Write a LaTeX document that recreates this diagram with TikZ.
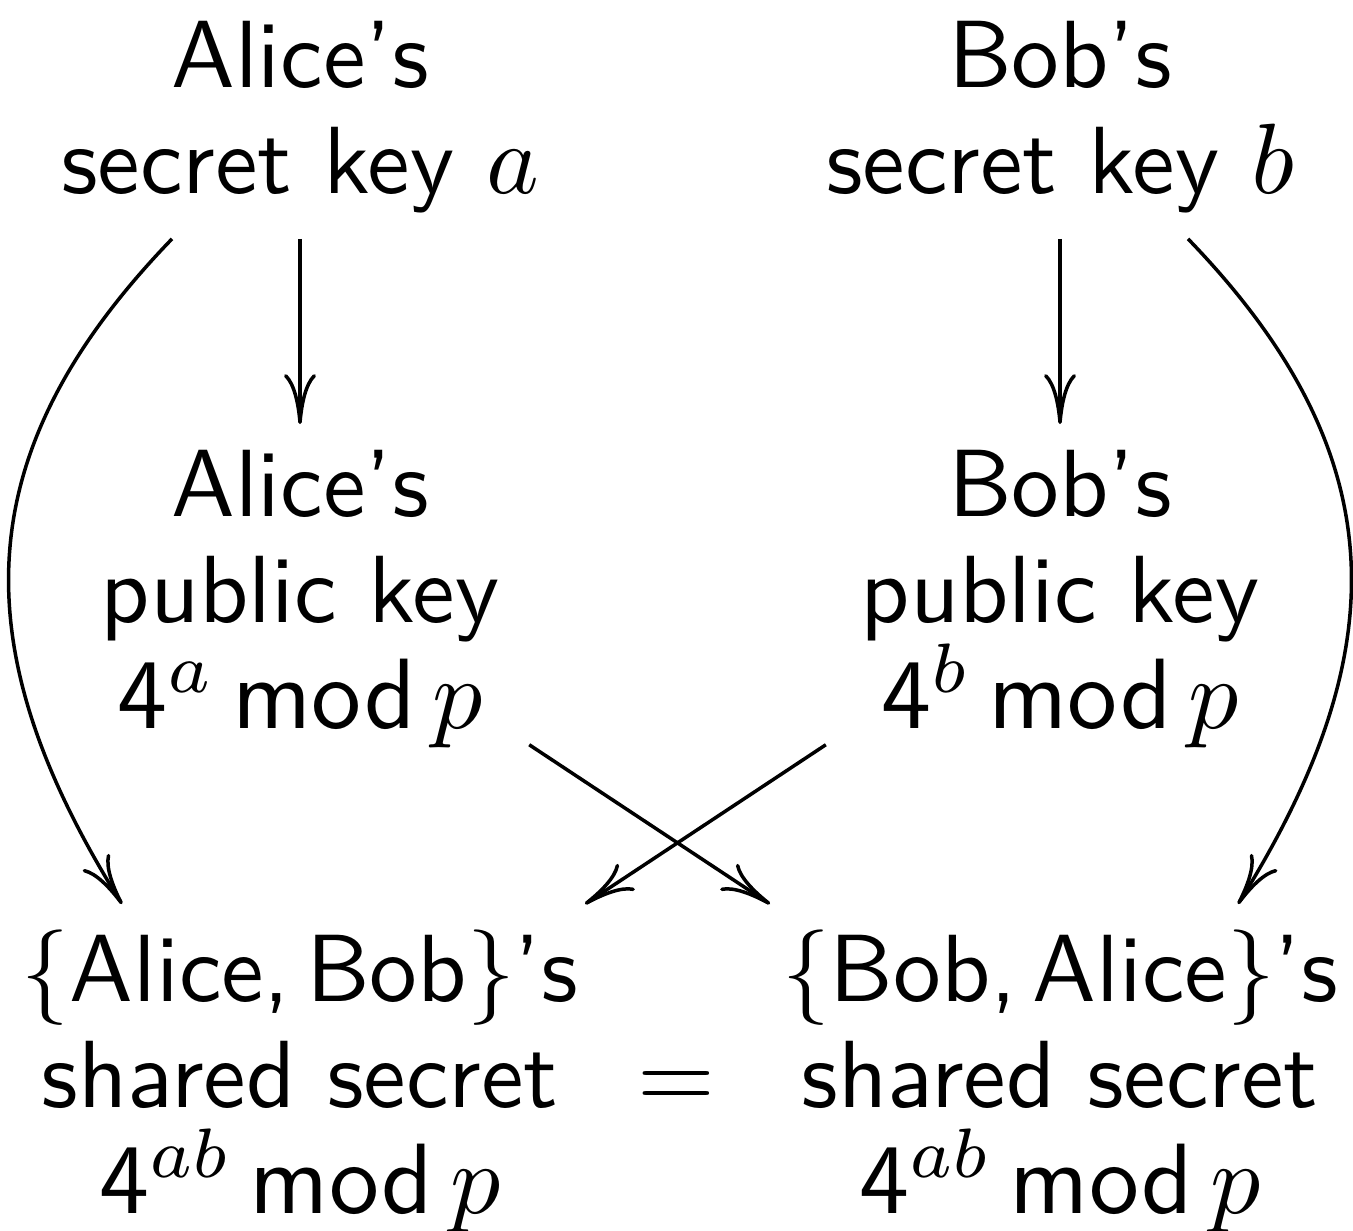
\documentclass[tikz,border=0pt]{standalone}
\usepackage{amsmath}
\usepackage{tikz}
\usetikzlibrary{arrows.meta}
\SetSymbolFont{operators}{normal}{OT1}{cmss}{m}{n}
\newcommand{\md}{\,\mathrm{mod}\,}

\begin{document}
\begin{tikzpicture}[
	x=0.1pt, y=-0.1pt,
	key/.style={align=center, anchor=north, inner sep=2.4pt, font=\fontsize{9.55}{10.6}\selectfont\sffamily},
	link/.style={-{To[length=5pt, width=3.2pt]}, line width=0.35pt}
]
	\useasboundingbox (0,0) rectangle (1353,1230);

	% secret keys
	\node[key] (asec) at (300,-5) {Alice's\\secret key $a$};
	\node[key] (bsec) at (1060,-5) {Bob's\\secret key $b$};
	% public keys
	\node[key] (apub) at (300,424) {Alice's\\public key\\$4^{a}\md p$};
	\node[key] (bpub) at (1060,424) {Bob's\\public key\\$4^{b}\md p$};
	% shared secrets
	\node[key] (ashr) at (300,904) {\{Alice,\,Bob\}'s\\shared secret\\$4^{ab}\md p$};
	\node[key] (bshr) at (1060,904) {\{Bob,\,Alice\}'s\\shared secret\\$4^{ab}\md p$};
	\node[anchor=base, font=\fontsize{9.55}{10.6}\selectfont] (eq) at (676,1108) {$=$};

	\draw[link] (asec) -- (apub);
	\draw[link] (bsec) -- (bpub);
	\draw[link] ([xshift=-12.8pt]asec.south)
		to[out=-134, in=122, looseness=1.15] ([xshift=-17.8pt]ashr.north);
	\draw[link] ([xshift=12.8pt]bsec.south)
		to[out=-46, in=58, looseness=1.15] ([xshift=17.8pt]bshr.north);
	\draw[link] ([xshift=0.4pt,yshift=2.9pt]apub.south east) -- ([xshift=1.4pt]bshr.north west);
	\draw[link] ([xshift=-0.9pt,yshift=2.9pt]bpub.south west) -- ([xshift=-1.9pt]ashr.north east);
\end{tikzpicture}
\end{document}
